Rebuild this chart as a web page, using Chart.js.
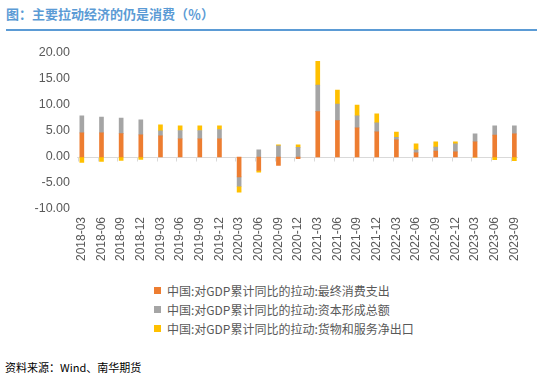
<!DOCTYPE html>
<html>
<head>
<meta charset="utf-8">
<script src="https://cdn.jsdelivr.net/npm/chart.js@4.4.0/dist/chart.umd.min.js"></script>
<style>
  html, body { margin: 0; padding: 0; background: #fff; }
  body { width: 537px; height: 380px; position: relative; overflow: hidden; font-family: "Noto Sans CJK SC", "Liberation Sans", sans-serif; }
  #title { position: absolute; left: 6px; top: 5px; font-size: 13px; line-height: 18px; font-weight: bold; color: #5B9BD5; white-space: nowrap; }
  #rule { position: absolute; left: 6px; top: 29px; width: 531px; height: 2px; background: #5B9BD5; }
  #wrap { position: absolute; left: 0; top: 40px; width: 537px; height: 229px; }
  #legend { position: absolute; left: 154px; top: 281px; }
  .item { height: 19px; line-height: 19px; font-size: 12px; color: #595959; white-space: nowrap; position: relative; padding-left: 13px; }
  .sw { position: absolute; left: 0; top: 6px; width: 7px; height: 7px; }
  #source { position: absolute; left: 5px; top: 359px; font-size: 11px; line-height: 17px; color: #000; white-space: nowrap; }
</style>
</head>
<body>
<div id="title">图：主要拉动经济的仍是消费（％）</div>
<div id="rule"></div>
<div id="wrap"><canvas id="c" width="537" height="229"></canvas></div>
<div id="legend"></div>
<div id="source">资料来源：Wind、南华期货</div>
<script>
const categories = ["2018-03","2018-06","2018-09","2018-12","2019-03","2019-06","2019-09","2019-12","2020-03","2020-06","2020-09","2020-12","2021-03","2021-06","2021-09","2021-12","2022-03","2022-06","2022-09","2022-12","2023-03","2023-06","2023-09"];
const consumption = [4.65, 4.65, 4.50, 4.26, 4.07, 3.50, 3.50, 3.50, -3.82, -2.60, -1.60, -0.33, 8.72, 7.00, 5.60, 4.84, 3.30, 0.82, 1.15, 1.00, 2.93, 4.20, 4.46];
const capital     = [3.25, 3.05, 3.00, 2.87, 0.96, 1.60, 1.60, 1.78, -1.80, 1.40, 2.16, 1.84, 5.10, 3.20, 2.30, 1.72, 0.50, 0.58, 0.76, 1.53, 1.53, 1.80, 1.54];
const netExports  = [-1.03, -0.84, -0.65, -0.46, 1.15, 0.90, 0.90, 0.70, -1.15, -0.30, 0.20, 0.50, 4.60, 2.67, 2.10, 1.72, 1.00, 1.14, 1.02, 0.40, -0.05, -0.50, -0.70];
const seriesNames = ["中国:对GDP累计同比的拉动:最终消费支出", "中国:对GDP累计同比的拉动:资本形成总额", "中国:对GDP累计同比的拉动:货物和服务净出口"];
const seriesColors = ["#ED7D31", "#A5A5A5", "#FFC000"];
const yTicks = [-10, -5, 0, 5, 10, 15, 20];

const zeroAxis = {
  id: 'zeroAxis',
  beforeDatasetsDraw(chart) {
    const ctx = chart.ctx, x = chart.scales.x, y = chart.scales.y;
    const y0 = Math.round(y.getPixelForValue(0)) + 0.5;
    const n = categories.length;
    ctx.save();
    ctx.strokeStyle = '#D9D9D9';
    ctx.lineWidth = 1;
    ctx.beginPath();
    ctx.moveTo(x.getPixelForValue(0) - 4.7, y0);
    ctx.lineTo(x.getPixelForValue(n - 1) + 3.5, y0);
    for (let i = 0; i < n; i++) {
      const tx = Math.round(x.getPixelForValue(i) - 3.7) + 0.5;
      ctx.moveTo(tx, y0);
      ctx.lineTo(tx, y0 + 4);
    }
    ctx.stroke();
    ctx.restore();
  }
};

const data = [consumption, capital, netExports];
new Chart(document.getElementById('c'), {
  type: 'bar',
  data: {
    labels: categories,
    datasets: data.map((d, i) => ({
      label: seriesNames[i],
      data: d,
      backgroundColor: seriesColors[i],
      borderWidth: 0,
      barThickness: 4
    }))
  },
  options: {
    responsive: false,
    animation: false,
    layout: { padding: { top: 13, right: 10.5, left: 0, bottom: 0 } },
    plugins: { legend: { display: false }, tooltip: { enabled: false } },
    scales: {
      x: {
        stacked: true,
        offset: true,
        grid: { display: false, drawTicks: false },
        border: { display: false },
        ticks: {
          autoSkip: false, maxRotation: 90, minRotation: 90, padding: 8,
          color: '#595959', font: { family: 'Liberation Sans', size: 12 }
        },
        afterFit(s) { s.height = 60; }
      },
      y: {
        stacked: true,
        min: -10, max: 20,
        grid: { display: false, drawTicks: false },
        border: { display: false },
        afterBuildTicks(s) { s.ticks = yTicks.map(v => ({ value: v })); },
        ticks: {
          padding: 2, color: '#595959', font: { family: 'Liberation Sans', size: 12.5 },
          callback: v => Number(v).toFixed(2)
        },
        afterFit(s) { s.width = 72; }
      }
    }
  },
  plugins: [zeroAxis]
});

const lg = document.getElementById('legend');
seriesNames.forEach((n, i) => {
  const d = document.createElement('div');
  d.className = 'item';
  d.innerHTML = '<span class="sw" style="background:' + seriesColors[i] + '"></span>' + n;
  lg.appendChild(d);
});
</script>
</body>
</html>
